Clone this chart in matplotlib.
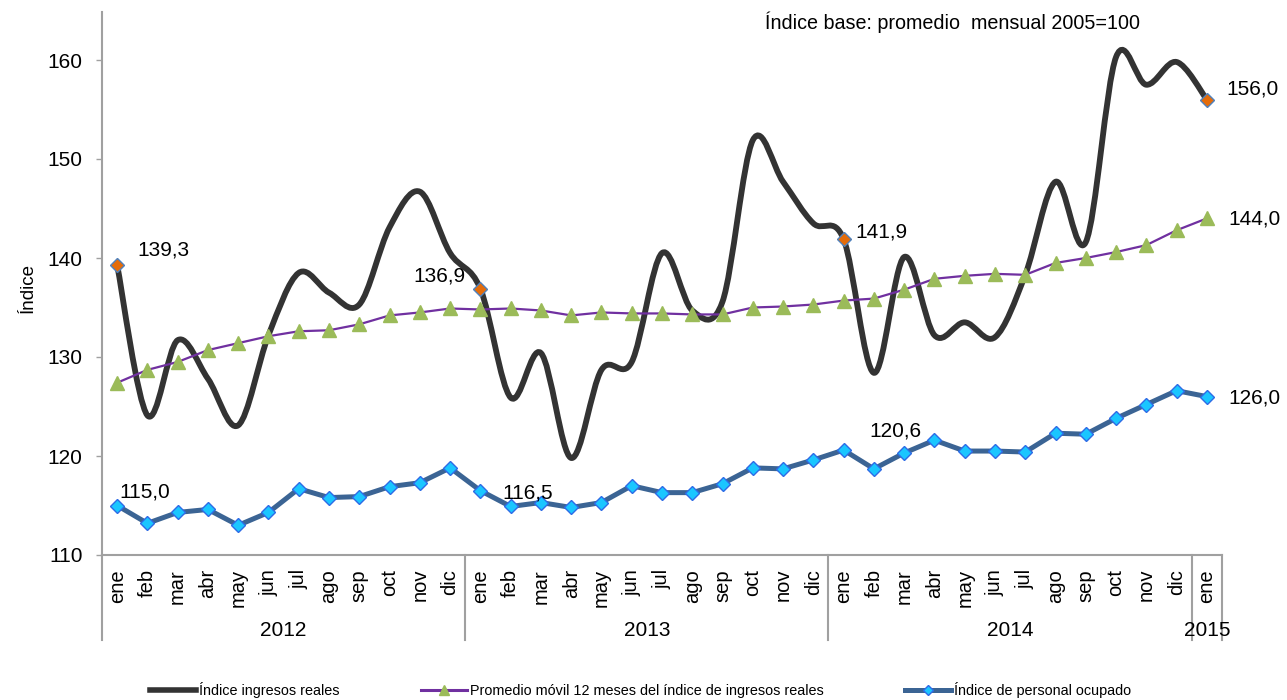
import numpy as np
import matplotlib
matplotlib.use("Agg")
import matplotlib.pyplot as plt
from matplotlib.path import Path
from matplotlib.patches import PathPatch
from matplotlib.lines import Line2D
import matplotlib.transforms as mtransforms

plt.rcParams['font.family'] = ['Liberation Sans', 'DejaVu Sans']

months = ["ene", "feb", "mar", "abr", "may", "jun", "jul", "ago", "sep", "oct", "nov", "dic"] * 3 + ["ene"]
years = ["2012", "2013", "2014", "2015"]

ingresos = [139.3, 124.1, 131.7, 127.8, 123.1, 132.2, 138.5, 136.5, 135.3, 143.1, 146.7, 140.5,
            136.9, 125.9, 130.4, 119.8, 128.7, 129.5, 140.5, 134.7, 135.6, 151.9, 147.7, 143.5,
            141.9, 128.4, 140.1, 132.2, 133.5, 132.0, 138.3, 147.7, 141.6, 160.3, 157.5, 159.8,
            156.0]
promedio = [127.4, 128.7, 129.5, 130.7, 131.4, 132.1, 132.6, 132.7, 133.3, 134.2, 134.5, 134.9,
            134.8, 134.9, 134.7, 134.2, 134.5, 134.4, 134.4, 134.3, 134.3, 135.0, 135.1, 135.3,
            135.7, 135.9, 136.8, 137.9, 138.2, 138.4, 138.3, 139.5, 140.0, 140.6, 141.3, 142.8,
            144.0]
personal = [115.0, 113.2, 114.3, 114.6, 113.0, 114.3, 116.7, 115.8, 115.9, 116.9, 117.3, 118.8,
            116.5, 114.9, 115.3, 114.8, 115.3, 117.0, 116.3, 116.3, 117.2, 118.8, 118.7, 119.6,
            120.6, 118.7, 120.3, 121.6, 120.5, 120.5, 120.4, 122.3, 122.2, 123.8, 125.2, 126.6,
            126.0]
highlight_idx = [0, 12, 24, 36]

fig = plt.figure(figsize=(12.87, 7.0), dpi=100)
ax = fig.add_axes([102/1287, 1-555/700, (1222-102)/1287, (555-12)/700])

x = np.arange(len(months))

# smoothed line (Excel-like Catmull-Rom Bezier)
pts = np.column_stack([x, ingresos]).astype(float)
n = len(pts)
verts = [tuple(pts[0])]
codes = [Path.MOVETO]
for i in range(n - 1):
    p0 = pts[max(i - 1, 0)]
    p1 = pts[i]
    p2 = pts[i + 1]
    p3 = pts[min(i + 2, n - 1)]
    c1 = p1 + (p2 - p0) / 6.0
    c2 = p2 - (p3 - p1) / 6.0
    verts += [tuple(c1), tuple(c2), tuple(p2)]
    codes += [Path.CURVE4] * 3
black = '#333333'
ax.add_patch(PathPatch(Path(verts, codes), fill=False, ec=black, lw=4.2,
                       capstyle='round', joinstyle='round', zorder=2))
ax.plot(x[highlight_idx], np.array(ingresos)[highlight_idx], ls='none', marker='D', ms=7.5,
        mfc='#E46C0A', mec='#4F81BD', mew=1.0, zorder=5)

purple = '#7030A0'
ax.plot(x, promedio, color=purple, lw=1.6, marker='^', ms=10.5, mfc='#9BBB59', mec='#9BBB59',
        zorder=3)

blue = '#3B6494'
ax.plot(x, personal, color=blue, lw=3.6, marker='D', ms=7, mfc='#1AC6FF', mec='#2E6BE6',
        mew=1.0, zorder=4)

ax.set_xlim(-0.5, len(months) - 0.5)
ax.set_ylim(110, 110 + (555 - 12) / 9.9)
ax.set_yticks([110, 120, 130, 140, 150, 160])
ax.tick_params(axis='y', labelsize=15, length=4, width=1, color='#A0A0A0', pad=10)
ax.set_xticks(x)
ax.set_xticklabels(months, rotation=90, fontsize=14.5)
ax.tick_params(axis='x', length=0, pad=10)
for s in ['top', 'right']:
    ax.spines[s].set_visible(False)
for s in ['left', 'bottom']:
    ax.spines[s].set_color('#A0A0A0')
    ax.spines[s].set_linewidth(1.5)
ax.set_ylabel('Índice', fontsize=13.5)
ax.yaxis.set_label_coords((37 - 102) / 1120, (555 - 288) / 543)

# group separators and year labels
trans = mtransforms.blended_transform_factory(ax.transData, ax.transAxes)
ybot = (555 - 640) / 543
for b in [-0.5, 11.5, 23.5, 35.5, 36.5]:
    ax.add_line(Line2D([b, b], [0, ybot], transform=trans, color='#A0A0A0', lw=1.5, clip_on=False))
year_centers = [5.5, 17.5, 29.5, 36]
for yc, yl in zip(year_centers, years):
    ax.text(yc, (555 - 630) / 543, yl, transform=trans, ha='center', va='center', fontsize=15)

# data labels
def lab(i, val, dx, dy, ha='left'):
    ax.annotate(f"{val:.1f}".replace('.', ','), (x[i], val), xytext=(dx, dy),
                textcoords='offset pixels', ha=ha, va='center', fontsize=15, zorder=6)

lab(0, ingresos[0], 20, 15)
lab(12, ingresos[12], -15, 13, ha='right')
lab(24, ingresos[24], 12, 7)
lab(36, ingresos[36], 20, 11)
lab(36, promedio[36], 22, -1)
lab(0, personal[0], 2, 13)
lab(12, personal[12], 22, -2)
lab(24, personal[24], 26, 19)
lab(36, personal[36], 22, -1)

fig.text(765/1287, 1 - 22/700, 'Índice base: promedio  mensual 2005=100', fontsize=14.2,
         ha='left', va='center')

handles = [Line2D([], [], color=black, lw=4),
           Line2D([], [], color=purple, lw=2.2, marker='^', ms=7, mfc='#9BBB59', mec='#9BBB59'),
           Line2D([], [], color=blue, lw=3.6, marker='D', ms=5.5, mfc='#1AC6FF', mec='#2E6BE6')]
labels = ['Índice ingresos reales', 'Promedio móvil 12 meses del índice de ingresos reales',
          'Índice de personal ocupado']
fig.legend(handles, labels, loc='center', bbox_to_anchor=(640.5/1287, 1 - 690/700), ncol=3,
           frameon=False, fontsize=10.4, handlelength=3.2, handletextpad=0.2, columnspacing=5.6)

fig.savefig('out.png', dpi=100)
